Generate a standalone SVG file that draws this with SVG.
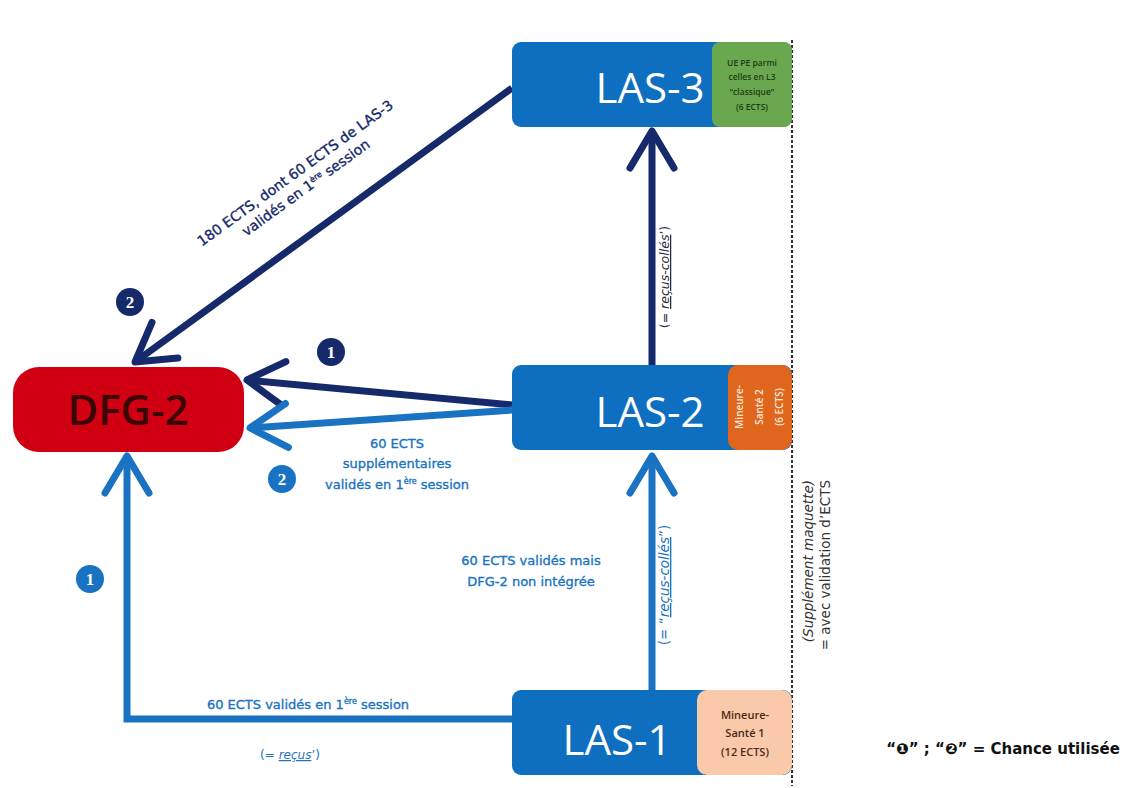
<svg xmlns="http://www.w3.org/2000/svg" width="1128" height="788" viewBox="0 0 1128 788">
<style>
.t{font-family:"Open Sans","DejaVu Sans",sans-serif;}
.d{font-family:"DejaVu Sans","Liberation Sans",sans-serif;}
.big{font-size:42px;fill:#ffffff;text-anchor:middle;}
.lbl{font-size:13px;text-anchor:middle;stroke-width:0.35;}
.navy{fill:#15296b;stroke:#15296b;}
.blue{fill:#1a73c2;stroke:#1a73c2;}
.num{font-family:"Liberation Serif",serif;font-size:17px;font-weight:bold;fill:#ffffff;text-anchor:middle;}
.sup{font-size:8px;}
.lnN{fill:none;stroke:#15296b;stroke-width:7;}
.lnB{fill:none;stroke:#1a73c2;stroke-width:7;}
</style>
<defs>
<marker id="hN" markerUnits="userSpaceOnUse" viewBox="-50 -50 100 100" markerWidth="100" markerHeight="100" refX="0" refY="0" orient="auto" overflow="visible">
<path d="M-37,-22 L0,0 L-37,22" fill="none" stroke="#15296b" stroke-width="7" stroke-linecap="round" stroke-linejoin="round"/>
</marker>
<marker id="hB" markerUnits="userSpaceOnUse" viewBox="-50 -50 100 100" markerWidth="100" markerHeight="100" refX="0" refY="0" orient="auto" overflow="visible">
<path d="M-37,-22 L0,0 L-37,22" fill="none" stroke="#1a73c2" stroke-width="7" stroke-linecap="round" stroke-linejoin="round"/>
</marker>
</defs>
<rect width="1128" height="788" fill="#ffffff"/>

<g id="connectors">
<line class="lnN" x1="512" y1="88" x2="135" y2="362" marker-end="url(#hN)"/>
<line class="lnN" x1="512" y1="405" x2="247" y2="380" marker-end="url(#hN)"/>
<line class="lnB" x1="512" y1="410" x2="250" y2="428" marker-end="url(#hB)"/>
<line class="lnN" x1="652" y1="365" x2="652" y2="131" marker-end="url(#hN)"/>
<line class="lnB" x1="652" y1="690" x2="652" y2="456" marker-end="url(#hB)"/>
<polyline class="lnB" points="512,719 127,719 127,456" marker-end="url(#hB)"/>
</g>

<line id="separator" x1="792" y1="40" x2="792" y2="786" stroke="#333333" stroke-width="2" stroke-dasharray="3,2"/>

<g id="dfg2">
<rect x="13" y="367" width="231" height="85" rx="26" fill="#d00012"/>
<text class="t" x="128" y="425" font-size="42" font-weight="600" fill="#3a0606" text-anchor="middle">DFG-2</text>
</g>

<g id="las3">
<rect x="512" y="42" width="280" height="85" rx="9" fill="#0e6fc1"/>
<rect x="712" y="42" width="80" height="85" rx="8" fill="#6aa84f"/>
<text class="t big" x="650" y="103">LAS-3</text>
<g class="t" font-size="8.5" font-weight="600" fill="#1f3d12" text-anchor="middle">
<text x="752" y="66">UE PE parmi</text>
<text x="752" y="80">celles en L3</text>
<text x="752" y="95">“classique”</text>
<text x="752" y="110">(6 ECTS)</text>
</g>
</g>

<g id="las2">
<rect x="512" y="365" width="280" height="85" rx="9" fill="#0e6fc1"/>
<rect x="728" y="365" width="64" height="85" rx="10" fill="#e0661e"/>
<text class="t big" x="650" y="427">LAS-2</text>
<g class="t" font-size="10" font-weight="600" fill="#fde6d6" text-anchor="middle" transform="translate(760,407) rotate(-90)">
<text x="0" y="-17">Mineure-</text>
<text x="0" y="3">Santé 2</text>
<text x="0" y="23">(6 ECTS)</text>
</g>
</g>

<g id="las1">
<rect x="512" y="690" width="280" height="85" rx="9" fill="#0e6fc1"/>
<rect x="697" y="690" width="95" height="85" rx="10" fill="#f9c9a9"/>
<text class="t big" x="617" y="755">LAS-1</text>
<g class="t" font-size="11" font-weight="600" fill="#4a2a1a" text-anchor="middle">
<text x="745" y="719">Mineure-</text>
<text x="745" y="737">Santé 1</text>
<text x="745" y="756">(12 ECTS)</text>
</g>
</g>

<g id="labels">
<g class="d lbl navy" transform="translate(298,177) rotate(-36)">
<text x="0" y="0" font-size="14">180 ECTS, dont 60 ECTS de LAS-3</text>
<text x="0" y="18" font-size="14">validés en 1<tspan class="sup" dy="-5">ère</tspan><tspan dy="5"> session</tspan></text>
</g>
<g class="d lbl blue">
<text x="397" y="448">60 ECTS</text>
<text x="397" y="468">supplémentaires</text>
<text x="397" y="489">validés en 1<tspan class="sup" dy="-5">ère</tspan><tspan dy="5"> session</tspan></text>
<text x="531" y="565">60 ECTS validés mais</text>
<text x="531" y="586">DFG-2 non intégrée</text>
<text x="308" y="709">60 ECTS validés en 1<tspan class="sup" dy="-5">ère</tspan><tspan dy="5"> session</tspan></text>
</g>
<text class="d" x="290" y="759" font-size="12" fill="#1a73c2" text-anchor="middle">(= <tspan font-style="italic" text-decoration="underline">reçus</tspan>’)</text>
<text class="d" x="0" y="0" font-size="12.5" fill="#2a2a3a" text-anchor="middle" transform="translate(669,277) rotate(-90)">(= <tspan font-style="italic" text-decoration="underline">reçus-collés</tspan>’)</text>
<text class="d" x="0" y="0" font-size="13.5" fill="#1a73c2" text-anchor="middle" transform="translate(669,585) rotate(-90)">(= “<tspan font-style="italic" text-decoration="underline">reçus-collés</tspan>”)</text>
<g class="d" font-size="13.5" fill="#333333" transform="translate(813,480) rotate(-90)" text-anchor="end">
<text x="0" y="0" font-style="italic">(Supplément maquette)</text>
<text x="0" y="17">= avec validation d’ECTS</text>
</g>
</g>

<g id="badges">
<circle cx="130" cy="302" r="14" fill="#15296b"/><text class="num" x="130" y="308">2</text>
<circle cx="331" cy="352" r="14" fill="#15296b"/><text class="num" x="331" y="358">1</text>
<circle cx="282" cy="479" r="14" fill="#1a73c2"/><text class="num" x="282" y="485">2</text>
<circle cx="90" cy="579" r="14" fill="#1a73c2"/><text class="num" x="90" y="585">1</text>
</g>

<text id="legend" x="1003" y="754" font-family="'DejaVu Sans',sans-serif" font-size="15" font-weight="bold" fill="#111111" text-anchor="middle">“❶” ; “❷” = Chance utilisée</text>
</svg>
